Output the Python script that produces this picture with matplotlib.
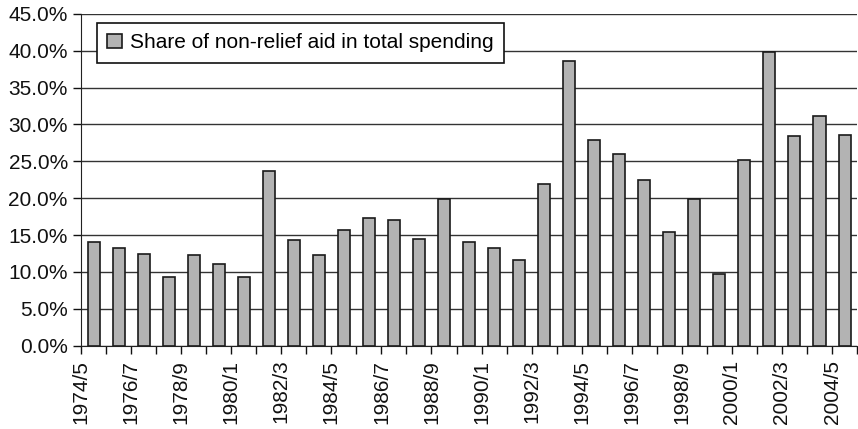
import numpy as np
import matplotlib.pyplot as plt
from matplotlib.ticker import FuncFormatter

plt.rcParams['font.family'] = ['Liberation Sans', 'DejaVu Sans']

# ---------------------------------------------------- #
years = [
    "1974/5", "1975/6", "1976/7", "1977/8", "1978/9", "1979/80", "1980/1",
    "1981/2", "1982/3", "1983/4", "1984/5", "1985/6", "1986/7", "1987/8",
    "1988/9", "1989/90", "1990/1", "1991/2", "1992/3", "1993/4", "1994/5",
    "1995/6", "1996/7", "1997/8", "1998/9", "1999/2000", "2000/1", "2001/2",
    "2002/3", "2003/4", "2004/5",
]
share = [
    14.1, 13.2, 12.5, 9.3, 12.3, 11.1, 9.3,
    23.7, 14.3, 12.3, 15.7, 17.3, 17.1, 14.5,
    19.9, 14.1, 13.2, 11.6, 21.9, 38.6, 27.9,
    26.0, 22.4, 15.4, 19.9, 9.7, 25.2, 39.8,
    28.4, 31.1, 28.6,
]
label = "Share of non-relief aid in total spending"

# ---------------------------------------------------- #
fig = plt.figure(figsize=(8.58, 4.29), dpi=100)
ax = fig.add_axes([0.0944, 0.194, 0.9045, 0.774])

x = np.arange(len(years))
ax.bar(x, share, width=0.48, color="#b3b3b3", edgecolor="#1a1a1a",
       linewidth=1.2, label=label, zorder=3)

ax.set_xlim(-0.5, len(years) - 0.5)
ax.set_ylim(0, 45)
ax.set_yticks(np.arange(0, 46, 5))
ax.yaxis.set_major_formatter(FuncFormatter(lambda v, _: f"{v:.1f}%"))
ax.grid(axis="y", color="#333333", linewidth=1.0, zorder=0)

# ticks between categories, labels on every other boundary
ax.set_xticks(np.arange(len(years) + 1) - 0.5)
ax.set_xticklabels([years[i] if i % 2 == 0 and i < len(years) else ""
                    for i in range(len(years) + 1)], rotation=90)

ax.tick_params(axis="both", labelsize=15, colors="#111111", length=6,
               width=1.0, direction="out")
ax.tick_params(axis="x", pad=4)

for s in ["top", "right"]:
    ax.spines[s].set_visible(False)
ax.spines["left"].set_color("#222222")
ax.spines["bottom"].set_color("#222222")

leg = ax.legend(loc="upper left", bbox_to_anchor=(0.02, 0.972), fontsize=15,
                frameon=True, fancybox=False, handlelength=0.7,
                handleheight=0.7, handletextpad=0.4, borderpad=0.5,
                borderaxespad=0)
leg.get_frame().set_edgecolor("#111111")
leg.get_frame().set_linewidth(1.2)
leg.get_frame().set_alpha(1)

fig.savefig("out.png", dpi=100)
